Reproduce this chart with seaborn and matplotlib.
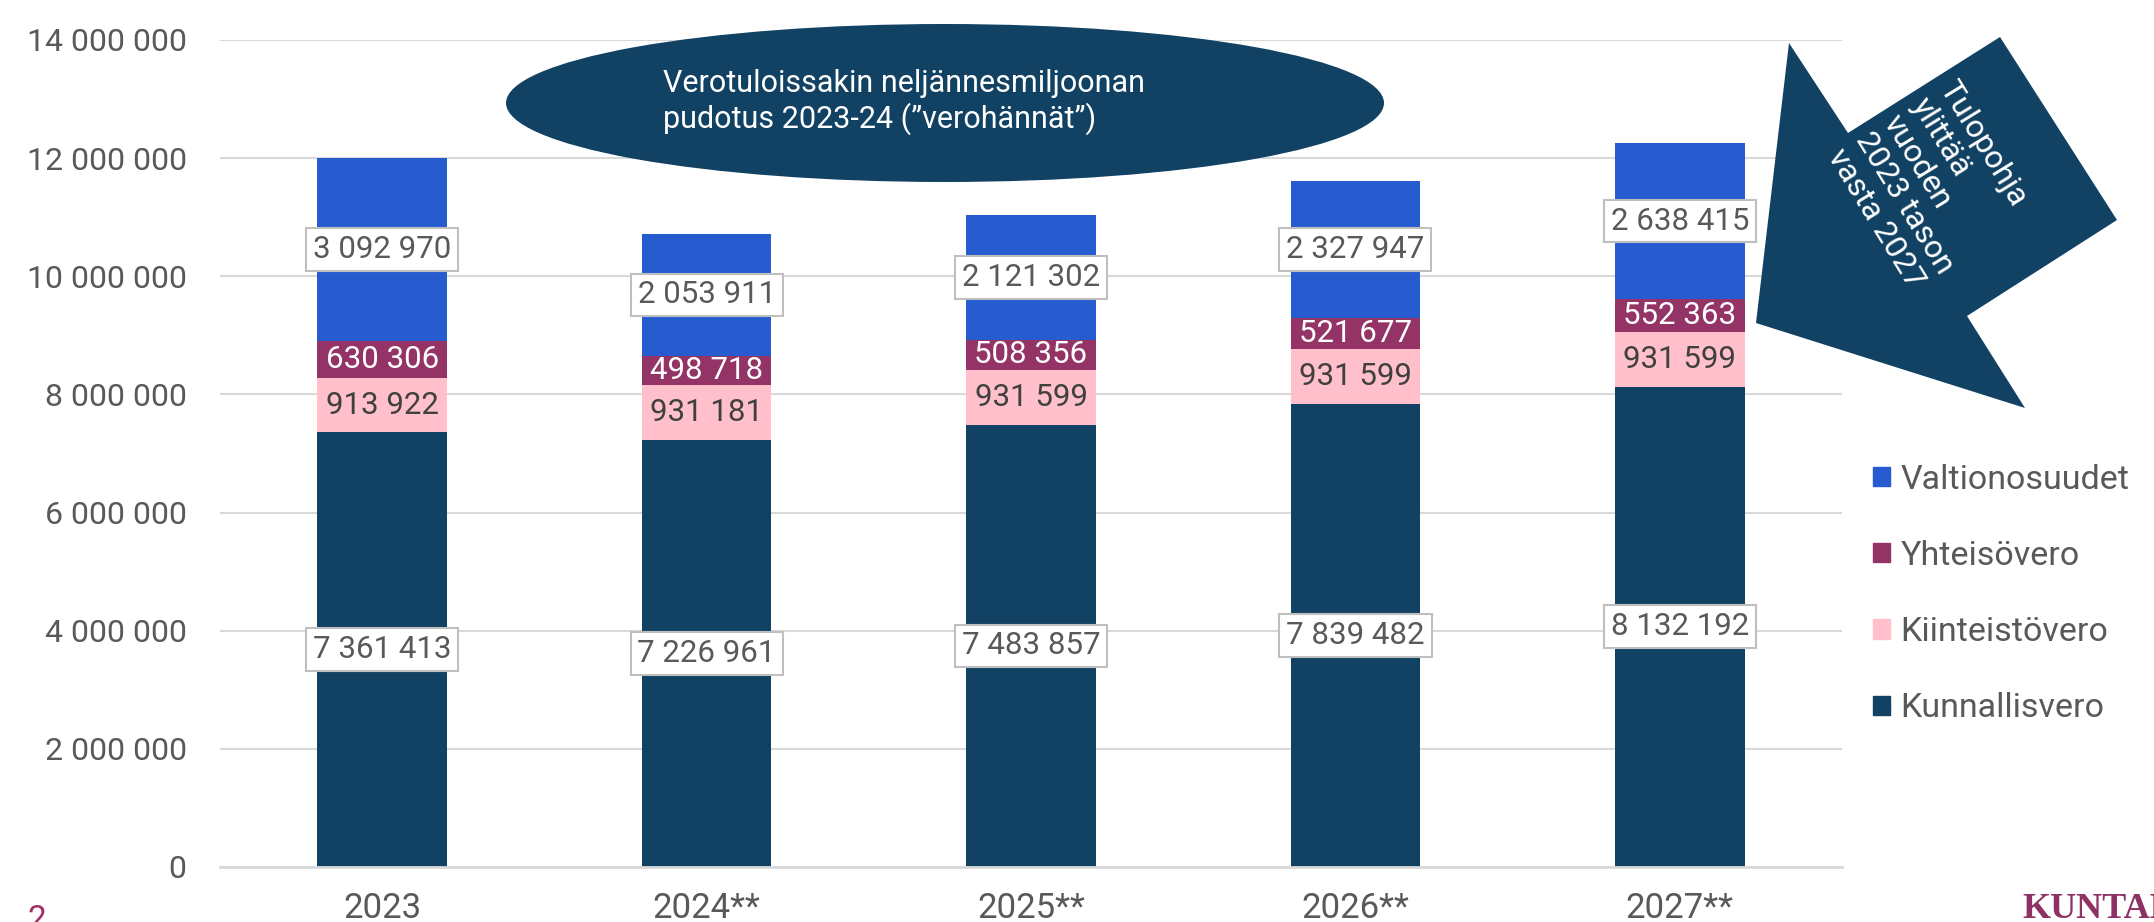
"""Kuntien tulopohja 2023-2027 - pinottu pylväskuvio."""

import pandas as pd
import seaborn as sns
import matplotlib.pyplot as plt
from matplotlib.patches import Ellipse, Polygon, Patch
from matplotlib.ticker import FuncFormatter

# Data
years = ["2023", "2024**", "2025**", "2026**", "2027**"]
kunnallisvero = [7361413, 7226961, 7483857, 7839482, 8132192]
kiinteistovero = [913922, 931181, 931599, 931599, 931599]
yhteisovero = [630306, 498718, 508356, 521677, 552363]
valtionosuudet = [3092970, 2053911, 2121302, 2327947, 2638415]

series_names = ["Kunnallisvero", "Kiinteistövero", "Yhteisövero", "Valtionosuudet"]
colors = ["#124263", "#FFC0CB", "#943366", "#265CCF"]

W, H = 2154, 922


def px(x, y):
    """Pixel position (from top-left) to figure fraction."""
    return x / W, 1 - y / H


#########################################################################################

sns.set_style("white")
plt.rcParams['font.family'] = ['Roboto', 'DejaVu Sans']

df = pd.DataFrame({"vuosi": years,
                   "Kunnallisvero": kunnallisvero,
                   "Kiinteistövero": kiinteistovero,
                   "Yhteisövero": yhteisovero,
                   "Valtionosuudet": valtionosuudet})

# Cumulative sums for stacking
cum = df[series_names].cumsum(axis=1)
cum["vuosi"] = df["vuosi"]

fig = plt.figure(figsize=(W / 100, H / 100), dpi=100)
ax = fig.add_axes([220 / W, 1 - 867 / H, (1842 - 220) / W, (867 - 40) / H])

# Draw from the top layer down so lower layers cover the upper ones
for name, col in reversed(list(zip(series_names, colors))):
    sns.barplot(data=cum, x="vuosi", y=name, color=col, width=0.4, saturation=1,
                errorbar=None, linewidth=0, ax=ax)

ax.set_ylim(0, 14000000)
ax.set_yticks(range(0, 14000001, 2000000))
ax.yaxis.set_major_formatter(FuncFormatter(lambda v, p: f"{v:,.0f}".replace(",", " ")))
ax.set_xlabel("")
ax.set_ylabel("")

# Axes style
ax.yaxis.grid(True, color='#D9D9D9', lw=1.5)
ax.set_axisbelow(True)
for s in ['top', 'right', 'left']:
    ax.spines[s].set_visible(False)
ax.spines['bottom'].set_color('#D9D9D9')
ax.spines['bottom'].set_linewidth(2)
ax.tick_params(axis='y', length=0, pad=24, labelsize=23, labelcolor='#595959')
ax.tick_params(axis='x', length=0, pad=18, labelsize=25, labelcolor='#595959')

# Data labels
box = dict(boxstyle='square,pad=0.22', fc='white', ec='#BFBFBF', lw=1.5)
for i in range(len(years)):
    bottom = 0
    for name in series_names:
        v = df[name][i]
        txt = f"{v:,.0f}".replace(",", " ")
        y = bottom + v / 2
        if name in ("Kunnallisvero", "Valtionosuudet"):
            ax.text(i, y, txt, ha='center', va='center', fontsize=22.5, color='#595959', bbox=box)
        elif name == "Kiinteistövero":
            ax.text(i, y, txt, ha='center', va='center', fontsize=22.5, color='#404040')
        else:
            ax.text(i, y, txt, ha='center', va='center', fontsize=22.5, color='white')
        bottom += v

# Legend
handles = [Patch(color=c, label=n) for n, c in zip(series_names, colors)][::-1]
leg = fig.legend(handles=handles, loc='center left', bbox_to_anchor=px(1856, 594),
                 frameon=False, fontsize=24.5, labelspacing=1.3, handlelength=0.5,
                 handleheight=0.5, handletextpad=0.3, borderpad=0)
for t in leg.get_texts():
    t.set_color('#595959')

# Ellipse annotation
ell = Ellipse(px(945, 103), 878 / W, 158 / H, transform=fig.transFigure,
              fc='#124263', ec='none')
fig.add_artist(ell)
fig.text(*px(663, 102), "Verotuloissakin neljännesmiljoonan\npudotus 2023-24 (”verohännät”)",
         ha='left', va='center', fontsize=22, color='white', linespacing=1.15)

# Arrow annotation
arrow_pts = [(1789, 43), (1848, 133), (2000, 37), (2117, 220),
             (1967, 316), (2025, 408), (1756, 323)]
arrow = Polygon([px(x, y) for x, y in arrow_pts], closed=True,
                transform=fig.transFigure, fc='#124263', ec='none')
fig.add_artist(arrow)
fig.text(*px(1932, 186), "Tulopohja\nylittää\nvuoden\n2023 tason\nvasta 2027",
         ha='center', va='center', rotation=-58.4, multialignment='left',
         fontsize=23, color='white', linespacing=1.15)

# Page number and logo (cut off at the edge)
fig.text(*px(28, 904), "2", ha='left', va='top', fontsize=24, color='#A0306A')
fig.text(*px(2022, 893), "KUNTALIITTO", ha='left', va='top', fontsize=26,
         fontweight='bold', family='Liberation Serif', color='#8E3163')

fig.savefig("out.png", dpi=100)
